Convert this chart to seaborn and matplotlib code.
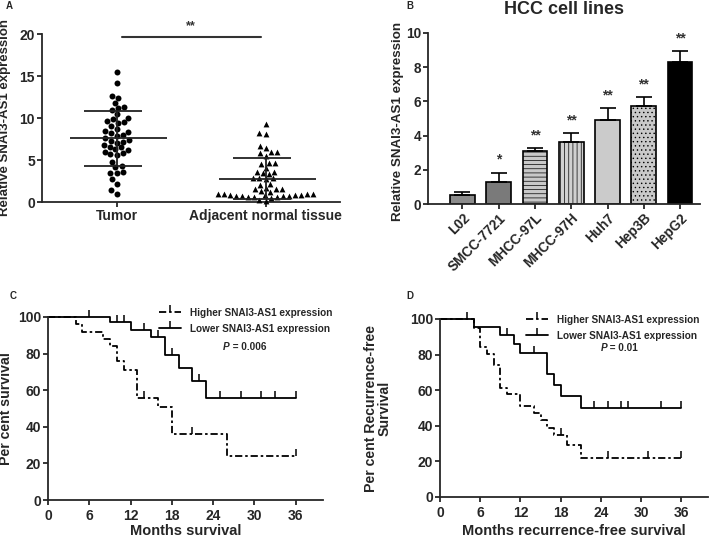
import numpy as np
import pandas as pd
import matplotlib
matplotlib.use("Agg")
import matplotlib.pyplot as plt
import seaborn as sns
from matplotlib.lines import Line2D

# panel A - scatter of individual samples
tumor_vals = [15.5, 14.2, 12.6, 12.4, 11.8, 11.3, 11.2, 11.0, 10.5, 10.0, 9.9, 9.6,
              9.5, 9.4, 9.0, 8.7, 8.4, 8.3, 8.2, 8.0, 7.9, 7.6, 7.4, 7.3, 7.2, 7.0,
              6.8, 6.6, 6.5, 6.3, 6.2, 6.0, 5.8, 5.7, 5.6, 4.8, 4.3, 4.2, 3.6, 3.5,
              3.5, 2.7, 2.2, 1.4, 1.0]
normal_vals = [9.3, 8.2, 8.1, 6.7, 6.4, 6.0, 5.9, 5.8, 5.5, 4.7, 4.6, 4.5, 4.0,
               3.6, 3.6, 3.4, 3.3, 2.9, 2.8, 2.8, 2.7, 2.2, 2.0, 1.7, 1.6, 1.5,
               1.5, 1.3, 1.2, 1.0, 0.9, 0.9, 0.9, 0.8, 0.8, 0.8, 0.8, 0.7, 0.7,
               0.7, 0.7, 0.6, 0.6, 0.6, 0.5, 0.1, 0.2]
groups_a = ["Tumor", "Adjacent normal tissue"]

# panel B - cell lines
cell_lines = ["L02", "SMCC-7721", "MHCC-97L", "MHCC-97H", "Huh7", "Hep3B", "HepG2"]
cell_means = [0.55, 1.3, 3.1, 3.65, 4.92, 5.75, 8.33]
cell_sd = [0.13, 0.52, 0.15, 0.5, 0.68, 0.5, 0.6]
cell_stars = ["", "*", "**", "**", "**", "**", "**"]
cell_colors = ["#8c8c8c", "#7a7a7a", "#c8c8c8", "#d0d0d0", "#cbcbcb", "#c9c9c9", "#000000"]
cell_hatch = [None, None, "----", "||||", None, "....", None]

# panel C - overall survival (KM steps)
c_hi_t = [0, 4, 5, 8, 9, 10, 11, 13, 16, 18, 26, 36]
c_hi_s = [100, 96, 92, 88, 84, 76, 71, 56, 51, 36, 24, 24]
c_hi_cens_t = [14, 21, 36]
c_hi_cens_s = [56, 36, 24]
c_lo_t = [0, 9, 12, 15, 17, 19, 21, 23, 36]
c_lo_s = [100, 97, 93, 89, 79, 72, 65, 55.5, 55.5]
c_lo_cens_t = [6, 10, 11, 14, 16, 18, 22, 25, 28, 31, 33, 36]
c_lo_cens_s = [100, 97, 97, 93, 89, 79, 65, 55.5, 55.5, 55.5, 55.5, 55.5]

# panel D - recurrence-free survival
d_hi_t = [0, 5, 6, 7, 8, 9, 10, 12, 14, 15, 16, 17, 19, 21, 36]
d_hi_s = [100, 95, 84, 80.5, 74, 61, 58, 51, 47, 43, 39, 35, 29, 22, 22]
d_hi_cens_t = [4, 18, 25, 31, 36]
d_hi_cens_s = [100, 35, 22, 22, 22]
d_lo_t = [0, 5, 9, 11, 12, 16, 17, 18, 21, 36]
d_lo_s = [100, 95.5, 91, 86, 81, 69, 63, 57, 50, 50]
d_lo_cens_t = [10, 14, 23, 25, 27, 28, 33, 36]
d_lo_cens_s = [91, 81, 50, 50, 50, 50, 50, 50]

sns.set_style("ticks")
plt.rcParams["font.family"] = ["Liberation Sans", "DejaVu Sans"]
plt.rcParams["font.weight"] = "bold"
plt.rcParams["axes.labelweight"] = "bold"
plt.rcParams["axes.linewidth"] = 1.3
plt.rcParams["xtick.major.width"] = 1.3
plt.rcParams["ytick.major.width"] = 1.3
plt.rcParams["xtick.major.size"] = 3.5
plt.rcParams["ytick.major.size"] = 3.5
plt.rcParams["xtick.major.pad"] = 1.5
plt.rcParams["ytick.major.pad"] = 1.5
plt.rcParams["hatch.color"] = "#a8a8a8"
plt.rcParams["hatch.linewidth"] = 0.5

fig = plt.figure(figsize=(7.09, 5.38), dpi=100)
W, H = 709, 538


def px_axes(l, t, r, b):
    return fig.add_axes([l / W, 1 - b / H, (r - l) / W, (b - t) / H])


ax_a = px_axes(42, 34, 340, 202)
ax_b = px_axes(428, 33, 700, 204)
ax_c = px_axes(48, 317, 323, 500)
ax_d = px_axes(440, 319, 708, 497)

# ---- A ----
df_t = pd.DataFrame({"group": groups_a[0], "val": tumor_vals})
df_n = pd.DataFrame({"group": groups_a[1], "val": normal_vals})
sns.swarmplot(data=df_t, x="group", y="val", order=groups_a, marker="o",
              color="black", size=4.3, ax=ax_a, clip_on=False)
sns.swarmplot(data=df_n, x="group", y="val", order=groups_a, marker="^",
              color="black", size=4.2, ax=ax_a, clip_on=False)
for i, vals in enumerate([tumor_vals, normal_vals]):
    m, s = np.mean(vals), np.std(vals, ddof=1)
    ax_a.hlines(m, i - 0.31, i + 0.34, color="#222222", lw=1.3, zorder=5)
    ax_a.hlines([m - s, m + s], i - 0.22, i + 0.17, color="#222222", lw=1.3, zorder=5)
    ax_a.vlines(i, max(m - s, 0), m + s, color="#222222", lw=1.3, zorder=5)
ax_a.plot([0.04, 0.97], [19.6, 19.6], color="#333333", lw=1.5, clip_on=False)
ax_a.text(0.5, 20.2, "**", ha="center", va="bottom", fontsize=9, color="#333333")
ax_a.set_ylim(0, 20)
ax_a.set_xlim(-0.5, 1.5)
ax_a.set_yticks([0, 5, 10, 15, 20])
ax_a.set_xlabel("")
ax_a.set_ylabel("Relative SNAI3-AS1 expression", fontsize=9.5)
ax_a.yaxis.set_label_coords((11 - 42) / 298, 0.5)
ax_a.tick_params(labelsize=10)
for lab in ax_a.get_xticklabels() + ax_a.get_yticklabels():
    lab.set_fontweight("bold")
sns.despine(ax=ax_a)

# ---- B ----
sns.barplot(x=cell_lines, y=cell_means, hue=cell_lines, palette=cell_colors,
            legend=False, width=0.68, edgecolor="black", linewidth=1.2, ax=ax_b)
for patch, h in zip(ax_b.patches, cell_hatch):
    if h:
        patch.set_hatch(h)
ax_b.errorbar(range(len(cell_lines)), cell_means,
              yerr=[np.zeros(len(cell_sd)), cell_sd], fmt="none",
              ecolor="black", elinewidth=1.2, capsize=5.5, capthick=1.2, zorder=1)
for i, (m, s, st) in enumerate(zip(cell_means, cell_sd, cell_stars)):
    ax_b.text(i, m + s + 0.35, st, ha="center", va="bottom", fontsize=10, color="#333333")
ax_b.set_ylim(0, 10)
ax_b.set_xlim(-0.95, 6.55)
ax_b.set_yticks([0, 2, 4, 6, 8, 10])
ax_b.set_ylabel("Relative SNAI3-AS1 expression", fontsize=9.6)
ax_b.yaxis.set_label_coords((404 - 428) / 272, 0.48)
ax_b.set_title("HCC cell lines", fontsize=13, fontweight="bold", pad=14)
ax_b.tick_params(labelsize=9.8)
plt.setp(ax_b.get_xticklabels(), rotation=45, ha="right", rotation_mode="anchor",
         fontweight="bold")
plt.setp(ax_b.get_yticklabels(), fontweight="bold")
sns.despine(ax=ax_b)


# ---- C, D ----
def km_panel(ax, hi_t, hi_s, hi_ct, hi_cs, lo_t, lo_s, lo_ct, lo_cs, pval,
             xlabel, ylabel, leg_anchor, ylab_x, xlab_y):
    dash = (4, 1.6, 1.4, 1.6)
    sns.lineplot(x=hi_t, y=hi_s, drawstyle="steps-post", color="black", lw=1.3,
                 ax=ax, clip_on=False, estimator=None, sort=False)
    ax.lines[-1].set_dashes(dash)
    sns.lineplot(x=lo_t, y=lo_s, drawstyle="steps-post", color="black", lw=1.3,
                 ax=ax, clip_on=False, estimator=None, sort=False)
    ax.plot(hi_ct, hi_cs, ls="none", marker=2, ms=5, mew=1.1, color="black", clip_on=False)
    ax.plot(lo_ct, lo_cs, ls="none", marker=2, ms=5, mew=1.1, color="black", clip_on=False)
    handles = [Line2D([0], [0], color="black", lw=1.3, dashes=dash, marker=2, ms=5, mew=1.1),
               Line2D([0], [0], color="black", lw=1.3, marker=2, ms=5, mew=1.1)]
    ax.legend(handles, ["Higher SNAI3-AS1 expression", "Lower SNAI3-AS1 expression"],
              loc="upper left", bbox_to_anchor=leg_anchor, frameon=False,
              fontsize=7.2, numpoints=1, handlelength=2.2, handletextpad=0.9,
              borderaxespad=0, borderpad=0, labelspacing=0.6)
    t = ax.text(pval[0], pval[1], "P", style="italic", fontweight="bold", fontsize=7.2)
    ax.annotate(" = " + pval[2], xy=(1, 0), xycoords=t, va="bottom",
                fontweight="bold", fontsize=7.2)
    ax.set_xlim(0, 40)
    ax.set_ylim(0, 100)
    ax.set_xticks(range(0, 37, 6))
    ax.set_yticks(range(0, 101, 20))
    ax.set_xlabel(xlabel, fontsize=10.5)
    ax.set_ylabel(ylabel, fontsize=10.2, linespacing=1.0)
    ax.yaxis.set_label_coords(ylab_x, 0.5)
    ax.xaxis.set_label_coords(0.5, xlab_y)
    ax.tick_params(labelsize=10)
    ax.tick_params(axis="x", pad=3)
    for lab in ax.get_xticklabels() + ax.get_yticklabels():
        lab.set_fontweight("bold")
    sns.despine(ax=ax)


km_panel(ax_c, c_hi_t, c_hi_s, c_hi_cens_t, c_hi_cens_s,
         c_lo_t, c_lo_s, c_lo_cens_t, c_lo_cens_s,
         (25.5, 82, "0.006"), "Months survival", "Per cent survival",
         (0.405, 1.05), (13 - 48) / 275, -0.133)
km_panel(ax_d, d_hi_t, d_hi_s, d_hi_cens_t, d_hi_cens_s,
         d_lo_t, d_lo_s, d_lo_cens_t, d_lo_cens_s,
         (24, 82, "0.01"), "Months recurrence-free survival",
         "Per cent Recurrence-free\nSurvival",
         (0.32, 1.025), (392 - 440) / 268, -0.152)

for lbl, x, y in [("A", 9, 6), ("B", 410, 6), ("C", 13, 296), ("D", 410, 296)]:
    fig.text(x / W, 1 - y / H, lbl, fontsize=7, fontweight="bold", va="center", ha="center")

fig.savefig("out.png", dpi=100)
